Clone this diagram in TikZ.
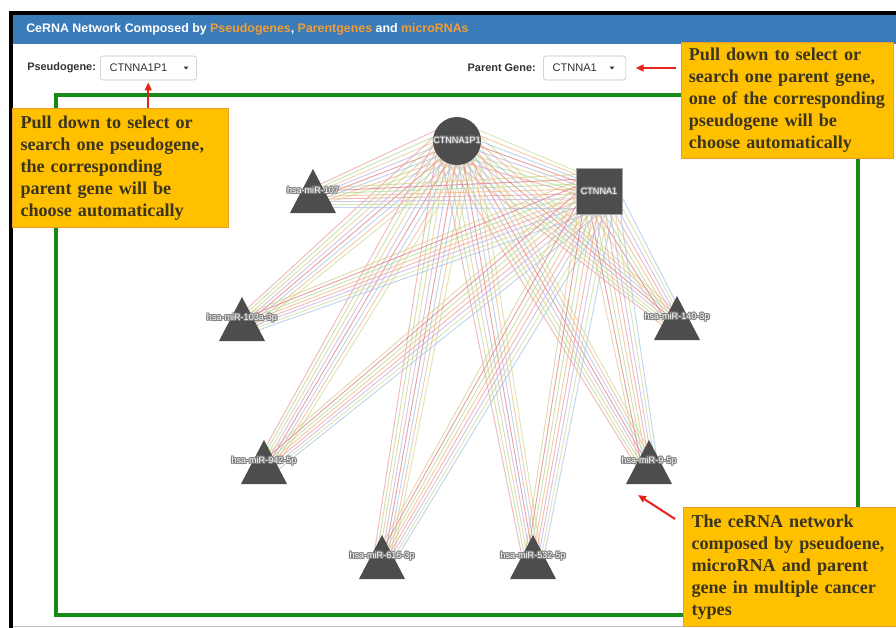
\documentclass[tikz,border=0pt]{standalone}
\usepackage{fontspec}
\setmainfont{Liberation Serif}
\setsansfont{Liberation Sans}
\usetikzlibrary{arrows.meta,calc}
\pgfdeclarelayer{base}
\pgfdeclarelayer{edgelayer}
\pgfsetlayers{base,edgelayer,main}
\definecolor{hdr}{HTML}{3A7CBA}
\definecolor{orng}{HTML}{F39C33}
\definecolor{boxfill}{HTML}{FFC000}
\definecolor{boxedge}{HTML}{EE9B2A}
\definecolor{boxtext}{HTML}{3B3520}
\definecolor{framegreen}{HTML}{168A16}
\definecolor{nodegray}{HTML}{4D4D4D}
\definecolor{halo}{HTML}{7E7E7E}
\definecolor{arr}{HTML}{E8231C}
\definecolor{lbltext}{HTML}{333333}
\definecolor{e1}{HTML}{EE9A9A}
\definecolor{e2}{HTML}{B3D893}
\definecolor{e3}{HTML}{DCC98A}
\definecolor{e4}{HTML}{C0AEDD}
\definecolor{e5}{HTML}{DE7C7C}
\definecolor{e6}{HTML}{A3C4E6}
\definecolor{e7}{HTML}{EFB684}
\definecolor{e8}{HTML}{CADC96}
\tikzset{
  edge/.style={line width=0.7pt, opacity=0.7},
  lbl/.style={font=\sffamily\fontsize{6.8}{8}\selectfont, inner sep=0},
  obox/.style={draw=boxedge, fill=boxfill, line width=0.8pt, text=boxtext,
    font=\bfseries\fontsize{13.6}{16.5}\selectfont, align=left, anchor=north west},
  ddbox/.style={draw=black!25, fill=white, rounded corners=2pt, text=lbltext,
    font=\sffamily\fontsize{8.3}{10}\selectfont, align=left, anchor=west,
    inner xsep=7pt, minimum height=18pt},
  ddlabel/.style={font=\sffamily\bfseries\fontsize{8.2}{10}\selectfont, text=lbltext, inner sep=0},
  redarrow/.style={draw=arr, line width=1.5pt, -{Triangle[length=6pt,width=5pt]}},
}
\newcommand\halolabel[3]{%
  \foreach \hx/\hy [count=\hi] in {-0.8/0,0.8/0,0/-0.8,0/0.8,-0.6/-0.6,0.6/0.6,-0.6/0.6,0.6/-0.6}{%
    \node[lbl,text=halo,xshift=\hx pt,yshift=\hy pt] (#1h\hi) at #2 {#3};}
  \node[lbl,text=white] (#1) at #2 {#3};}
\begin{document}
\begin{tikzpicture}[x=0.75pt,y=-0.75pt]
\useasboundingbox (0,0) rectangle (896,628);
\begin{pgfonlayer}{base}
  \fill[white] (0,0) rectangle (896,628);
  \fill[black] (9,11) rectangle (896,15);
  \fill[black] (9,11) rectangle (13,628);
  \fill[hdr] (13,15) rectangle (896,44);
  \draw[black!25, line width=0.8pt] (13,626.5) -- (896,626.5);
\end{pgfonlayer}

% title
\node[anchor=west, font=\sffamily\bfseries\fontsize{9.3}{11}\selectfont, text=white, inner sep=0] (title) at (26,29.5)
  {CeRNA Network Composed by \textcolor{orng}{Pseudogenes}, \textcolor{orng}{Parentgenes} and \textcolor{orng}{microRNAs}};

% selectors
\node[ddlabel, anchor=west] (pslabel) at (27,68) {Pseudogene:};
\node[ddbox, text width=58pt] (psdd) at (100,68) {CTNNA1P1};
\fill[lbltext] (183.5,66.5) -- (188.5,66.5) -- (186,69.5) -- cycle;
\node[ddlabel, anchor=east] (pglabel) at (536,68) {Parent Gene:};
\node[ddbox, text width=48pt] (pgdd) at (543,68) {CTNNA1};
\fill[lbltext] (609.5,66.5) -- (614.5,66.5) -- (612,69.5) -- cycle;

% green frame
\draw[framegreen, line width=3pt] (56,95) rectangle (858,615);

% network nodes
\node[circle, fill=nodegray, minimum size=36pt, inner sep=0] (p1) at (457,141) {};
\node[rectangle, fill=nodegray, draw=black!35, line width=0.4pt, minimum size=34.5pt, inner sep=0] (g1) at (599,191) {};
\foreach \n/\x/\y in {m107/313/198, m103/242/326, m140/677/325, m942/264/469, m95/649/469, m616/382/564, m532/533/564}{
  \node[coordinate] (\n) at (\x,\y) {};
}

% edges
\begin{pgfonlayer}{edgelayer}
\foreach \t in {m107,m103,m140,m942,m95,m616,m532,g1}{
  \foreach \k/\c in {-3.5/e1,-2.5/e2,-1.5/e3,-0.5/e4,0.5/e5,1.5/e6,2.5/e7,3.5/e8}{
    \draw[edge,\c] ($(p1)!\k*4pt!90:(\t)$) -- ($(\t)!\k*2pt!-90:(p1)$);
  }
}
\foreach \t in {m107,m103,m140,m942,m95,m616,m532}{
  \foreach \k/\c in {-3.5/e3,-2.5/e5,-1.5/e2,-0.5/e7,0.5/e1,1.5/e4,2.5/e8,3.5/e6}{
    \draw[edge,\c] ($(g1)!\k*3.8pt!90:(\t)$) -- ($(\t)!\k*2pt!-90:(g1)$);
  }
}
\end{pgfonlayer}

% triangles and labels
\foreach \n/\x/\y/\t in {m107/313/198/hsa-miR-107, m103/242/326/hsa-miR-103a-3p, m140/677/325/hsa-miR-140-3p, m942/264/469/hsa-miR-942-5p, m95/649/469/hsa-miR-9-5p, m616/382/564/hsa-miR-616-3p, m532/533/564/hsa-miR-532-5p}{
  \fill[nodegray] (\x,\y-29) -- (\x+23,\y+15) -- (\x-23,\y+15) -- cycle;
  \halolabel{\n lab}{(\x,\y-8)}{\t}
}
\halolabel{p1lab}{(457,140)}{CTNNA1P1}
\halolabel{g1lab}{(599,191)}{CTNNA1}

% callout boxes
\node[obox, text width=150pt, inner xsep=6pt, minimum height=89pt] (lbox) at (12,108)
  {Pull down to select or\\search one pseudogene,\\the corresponding\\parent gene will be\\choose automatically};
\node[obox, text width=148pt, inner xsep=5.5pt, minimum height=87pt] (rbox) at (681,42)
  {Pull down to select or\\search one parent gene,\\one of the corresponding\\pseudogene will be\\choose automatically};
\node[obox, text width=148pt, inner xsep=6pt, minimum height=89pt] (bbox) at (683,507)
  {The ceRNA network\\composed by pseudoene,\\microRNA and parent\\gene in multiple cancer\\types};

% arrows
\draw[redarrow, shorten >=1.5pt] (psdd.south |- lbox.north) -- (psdd.south);
\draw[redarrow, shorten <=4pt, shorten >=7pt] (rbox.west |- pgdd.east) -- (pgdd.east);
\draw[redarrow] ([shift={(-8,12)}]bbox.north west) -- ([shift={(-11,26)}]m95);
\end{tikzpicture}
\end{document}
